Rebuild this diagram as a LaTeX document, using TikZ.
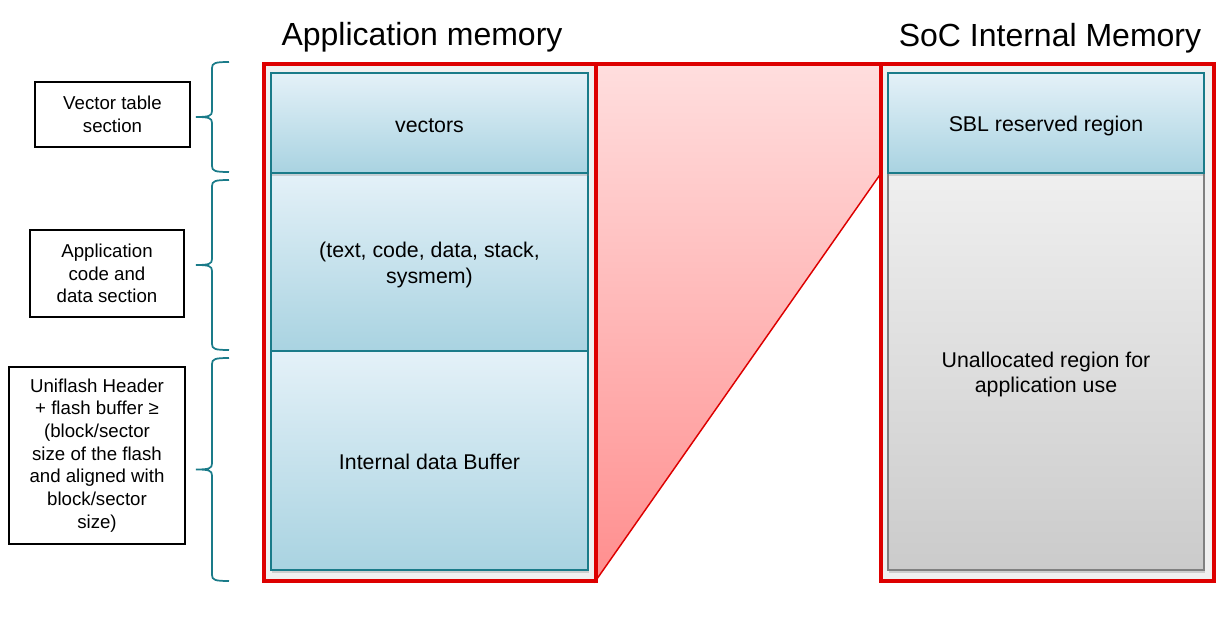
\documentclass[tikz,border=0pt]{standalone}
\usepackage{fontspec}
\setmainfont{Liberation Sans}
\usetikzlibrary{shadows,backgrounds}

\definecolor{memred}{HTML}{DD0000}
\definecolor{blktop}{HTML}{E4F1F8}
\definecolor{blkbot}{HTML}{A9D3E1}
\definecolor{blkline}{HTML}{1A7B89}
\definecolor{graytop}{HTML}{EFEFEF}
\definecolor{graybot}{HTML}{CBCBCB}
\definecolor{grayline}{HTML}{808080}
\definecolor{fantop}{HTML}{FFDEDE}
\definecolor{fanbot}{HTML}{FF8E8E}

\begin{document}
\begin{tikzpicture}[x=0.75pt, y=-0.75pt, font=\fontsize{16}{19}\selectfont,
  memblk/.style 2 args={draw=blkline, line width=1.5pt, top color=blktop, bottom color=blkbot,
    minimum width=#1*0.75pt, minimum height=#2*0.75pt, inner sep=0pt,
    drop shadow={shadow xshift=0.6pt, shadow yshift=-2pt, opacity=0.3}},
  freeblk/.style 2 args={memblk={#1}{#2}, draw=grayline, top color=graytop, bottom color=graybot},
  blktxt/.style={align=center, yshift=-2.25pt},
  memframe/.style 2 args={draw=memred, line width=3pt, minimum width=#1*0.75pt,
    minimum height=#2*0.75pt, inner sep=0pt, outer sep=0pt},
  sidebox/.style 2 args={draw, line width=1.3pt, minimum width=#1*0.75pt, minimum height=#2*0.75pt,
    inner sep=0pt, align=center, font=\fontsize{14}{17}\selectfont},
  brc/.style={draw=blkline, line width=1.3pt}]
\useasboundingbox (0,0) rectangle (1229,641);

% titles
\node[font=\fontsize{24}{28}\selectfont] (apptitle) at (422,37) {Application memory};
\node[font=\fontsize{24}{28}\selectfont] (soctitle) at (1050,38) {SoC Internal Memory};

% application image (left)
\node[memblk={317}{178}, label={[blktxt, name=codetxt]center:(text, code, data, stack,\\sysmem)}] (code) at (429.5,262) {};
\node[memblk={317}{219}, label={[blktxt, name=buftxt, yshift=1pt]center:Internal data Buffer}] (buf) at (429.5,460.5) {};
\node[memblk={317}{100}, label={[blktxt, name=vectxt]center:vectors}] (vec) at (429.5,123) {};
\node[memframe={331.5}{517}] (appmem) at (429.75,322.5) {};

% SoC memory (right)
\node[freeblk={316}{397}, label={[blktxt, name=unaltxt]center:Unallocated region for\\application use}] (unal) at (1046,371.5) {};
\node[memblk={316}{100}, label={[blktxt, name=sbltxt]center:SBL reserved region}] (sbl) at (1046,123) {};
\node[memframe={333.5}{517}] (socmem) at (1047.25,322.5) {};

% frame insides + where the image lands in the SoC memory
\begin{scope}[on background layer]
  \fill[black!6] (appmem.north west) rectangle (appmem.south east);
  \fill[black!6] (socmem.north west) rectangle (socmem.south east);
  \draw[memred, line width=1.1pt, top color=fantop, bottom color=fanbot]
    (appmem.north east) -- (socmem.north west) -- (socmem.west |- sbl.south)
    -- (appmem.south east) -- cycle;
  \draw[memred, line width=3pt] (appmem.north east) -- (socmem.north west);
\end{scope}

% section labels + braces
\node[sidebox={155}{65}] (vecsec) at (112.5,114.5) {Vector table\\section};
\node[sidebox={154}{87}] (codesec) at (107,273.5) {Application\\code and\\data section};
\node[sidebox={176}{177}] (bufsec) at (97,455.5) {Uniflash Header\\+ flash buffer ≥\\(block/sector\\size of the flash\\and aligned with\\block/sector\\size)};
\foreach \t/\b in {62/172, 180/350, 358/581} {
  \pgfmathsetmacro{\m}{(\t+\b)/2}
  \draw[brc] (229,\t) .. controls (215,\t) and (212,\t+1) .. (212,\t+6) -- (212,\m-6)
    .. controls (212,\m-1) and (209,\m) .. (196,\m)
    .. controls (209,\m) and (212,\m+1) .. (212,\m+6) -- (212,\b-6)
    .. controls (212,\b-1) and (215,\b) .. (229,\b);
}
\end{tikzpicture}
\end{document}
